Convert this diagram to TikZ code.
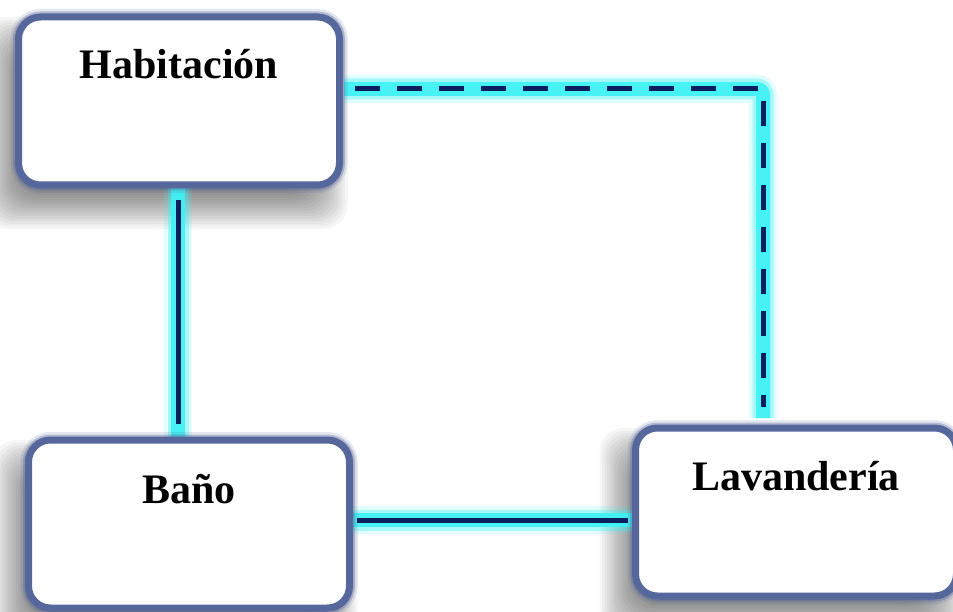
\documentclass[tikz,border=0pt]{standalone}
\usepackage{fontspec}
\setmainfont{Liberation Serif}
\usetikzlibrary{calc}
\definecolor{navy}{HTML}{0B1F5E}
\definecolor{glow}{HTML}{3CF2F4}
\definecolor{rim}{HTML}{56679C}
\begin{document}
\begin{tikzpicture}[x=1pt,y=-1pt,
  room/.style={rounded corners=22pt, fill=white, draw=rim, line width=7pt,
    minimum width=321pt, minimum height=168pt, inner sep=0pt,
    preaction={draw=rim, line width=16pt, draw opacity=0.15},
    preaction={draw=rim, line width=11pt, draw opacity=0.35}},
  roomtext/.style={anchor=base, inner sep=0pt, font=\bfseries\fontsize{42}{50}\selectfont},
  glowA/.style={draw=glow, line width=28pt, draw opacity=0.15},
  glowB/.style={draw=glow, line width=21pt, draw opacity=0.35},
  glowC/.style={draw=glow, line width=14pt, draw opacity=0.9},
  wire/.style={draw=navy, line width=5pt},
  dashpat/.style={dash pattern=on 25pt off 17pt},
]
\useasboundingbox (0,0) rectangle (953,612);
\clip (0,0) rectangle (953,612);
\fill[white] (0,0) rectangle (953,612);

\path (179,101) coordinate (habc) (189,524) coordinate (banoc) (796,512) coordinate (lavc);

% soft shadows
\foreach \c in {habc,banoc,lavc}{
  \foreach \i in {0,...,15}{
    \pgfmathsetmacro\d{22-2.6*\i}
    \fill[black,opacity=0.035,rounded corners=24pt]
      ($(\c)+(-14-160.5-\d,22-84-\d)$) rectangle ($(\c)+(-14+160.5+\d,22+84+\d)$);
  }
}

% glow of connectors (under the boxes)
\foreach \g in {glowA,glowB,glowC}{
  \draw[\g] ($(habc)+(-1,84)$) -- ($(banoc)+(-11,-84)$);
  \draw[\g] ($(banoc)+(161,-4)$) -- ($(lavc)+(-160,8)$);
  \draw[\g,rounded corners=6pt] ($(habc)+(165,-12)$) -| ($(lavc)+(-33,-94)$);
}

\node[room] (hab) at (habc) {};
\node[room] (bano) at (banoc) {};
\node[room] (lav) at (lavc) {};

\node[roomtext] (habt) at ($(hab.north)+(0,65)$) {Habitación};
\node[roomtext] (banot) at ($(bano.north)+(0,67)$) {Baño};
\node[roomtext] (lavt) at ($(lav.north)+(0,66)$) {Lavandería};

% connectors
\draw[wire] ($(hab.south)+(-1,12)$) -- ($(bano.north)+(-11,-13)$);
\draw[wire] ($(bano.east)+(4,-4)$) -- ($(lav.west)+(-4,8)$);
\draw[wire,dashpat] ($(hab.east)+(12,-12)$) -| ($(lav.north)+(-33,-18)$);
\end{tikzpicture}
\end{document}
